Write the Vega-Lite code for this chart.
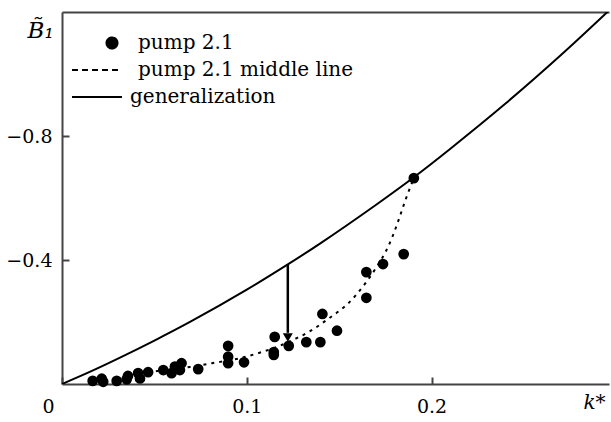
{
  "$schema": "https://vega.github.io/schema/vega-lite/v6.json",
  "width": 547,
  "height": 372,
  "autosize": "none",
  "padding": {"left": 62, "top": 12, "right": 2, "bottom": 38},
  "background": "white",
  "config": {"view": {"stroke": null}},
  "datasets": {
    "pts": [
      {"k": 0.0166, "B": -0.010, "series": "pump 2.1"},
      {"k": 0.0215, "B": -0.017, "series": "pump 2.1"},
      {"k": 0.0223, "B": -0.007, "series": "pump 2.1"},
      {"k": 0.0296, "B": -0.010, "series": "pump 2.1"},
      {"k": 0.0350, "B": -0.015, "series": "pump 2.1"},
      {"k": 0.0357, "B": -0.026, "series": "pump 2.1"},
      {"k": 0.0412, "B": -0.035, "series": "pump 2.1"},
      {"k": 0.0422, "B": -0.018, "series": "pump 2.1"},
      {"k": 0.0466, "B": -0.038, "series": "pump 2.1"},
      {"k": 0.0548, "B": -0.045, "series": "pump 2.1"},
      {"k": 0.0593, "B": -0.035, "series": "pump 2.1"},
      {"k": 0.0611, "B": -0.056, "series": "pump 2.1"},
      {"k": 0.0638, "B": -0.045, "series": "pump 2.1"},
      {"k": 0.0647, "B": -0.067, "series": "pump 2.1"},
      {"k": 0.0737, "B": -0.048, "series": "pump 2.1"},
      {"k": 0.0899, "B": -0.123, "series": "pump 2.1"},
      {"k": 0.0899, "B": -0.088, "series": "pump 2.1"},
      {"k": 0.0899, "B": -0.067, "series": "pump 2.1"},
      {"k": 0.0985, "B": -0.070, "series": "pump 2.1"},
      {"k": 0.1151, "B": -0.152, "series": "pump 2.1"},
      {"k": 0.1146, "B": -0.103, "series": "pump 2.1"},
      {"k": 0.1146, "B": -0.094, "series": "pump 2.1"},
      {"k": 0.1227, "B": -0.123, "series": "pump 2.1"},
      {"k": 0.1322, "B": -0.135, "series": "pump 2.1"},
      {"k": 0.1398, "B": -0.135, "series": "pump 2.1"},
      {"k": 0.1409, "B": -0.226, "series": "pump 2.1"},
      {"k": 0.1488, "B": -0.172, "series": "pump 2.1"},
      {"k": 0.1647, "B": -0.278, "series": "pump 2.1"},
      {"k": 0.1647, "B": -0.361, "series": "pump 2.1"},
      {"k": 0.1737, "B": -0.387, "series": "pump 2.1"},
      {"k": 0.1849, "B": -0.419, "series": "pump 2.1"},
      {"k": 0.1904, "B": -0.664, "series": "pump 2.1"}
    ],
    "mid": [
      {"k": 0.0422, "B": -0.035, "series": "pump 2.1 middle line"},
      {"k": 0.0546, "B": -0.044, "series": "pump 2.1 middle line"},
      {"k": 0.0692, "B": -0.055, "series": "pump 2.1 middle line"},
      {"k": 0.0811, "B": -0.067, "series": "pump 2.1 middle line"},
      {"k": 0.0962, "B": -0.083, "series": "pump 2.1 middle line"},
      {"k": 0.1086, "B": -0.104, "series": "pump 2.1 middle line"},
      {"k": 0.1178, "B": -0.123, "series": "pump 2.1 middle line"},
      {"k": 0.1270, "B": -0.148, "series": "pump 2.1 middle line"},
      {"k": 0.1330, "B": -0.166, "series": "pump 2.1 middle line"},
      {"k": 0.1438, "B": -0.209, "series": "pump 2.1 middle line"},
      {"k": 0.1557, "B": -0.265, "series": "pump 2.1 middle line"},
      {"k": 0.1638, "B": -0.322, "series": "pump 2.1 middle line"},
      {"k": 0.1703, "B": -0.378, "series": "pump 2.1 middle line"},
      {"k": 0.1750, "B": -0.425, "series": "pump 2.1 middle line"},
      {"k": 0.1790, "B": -0.478, "series": "pump 2.1 middle line"},
      {"k": 0.1825, "B": -0.535, "series": "pump 2.1 middle line"},
      {"k": 0.1860, "B": -0.596, "series": "pump 2.1 middle line"},
      {"k": 0.1904, "B": -0.664, "series": "pump 2.1 middle line"}
    ],
    "gen": [
      {"k": 0.0, "B": 0.0, "series": "generalization"},
      {"k": 0.015, "B": -0.039, "series": "generalization"},
      {"k": 0.03, "B": -0.081, "series": "generalization"},
      {"k": 0.05, "B": -0.140, "series": "generalization"},
      {"k": 0.07, "B": -0.2025, "series": "generalization"},
      {"k": 0.1, "B": -0.3044, "series": "generalization"},
      {"k": 0.1222, "B": -0.3858, "series": "generalization"},
      {"k": 0.14, "B": -0.4546, "series": "generalization"},
      {"k": 0.17, "B": -0.5784, "series": "generalization"},
      {"k": 0.1904, "B": -0.667, "series": "generalization"},
      {"k": 0.21, "B": -0.7583, "series": "generalization"},
      {"k": 0.24, "B": -0.9047, "series": "generalization"},
      {"k": 0.27, "B": -1.0612, "series": "generalization"},
      {"k": 0.2962, "B": -1.206, "series": "generalization"}
    ],
    "arrow": [
      {"k": 0.1222, "B": -0.386, "B2": -0.165, "tip": -0.150}
    ]
  },
  "layer": [
    {
      "data": {"name": "gen"},
      "mark": {"type": "line", "strokeWidth": 2, "interpolate": "catmull-rom", "clip": true},
      "encoding": {
        "x": {"field": "k", "type": "quantitative", "scale": {"domain": [0, 0.296], "nice": false, "zero": false},
          "axis": {"orient": "top", "labels": false, "ticks": false, "grid": false, "title": null, "domainColor": "#444", "domainWidth": 2}},
        "y": {"field": "B", "type": "quantitative", "scale": {"domain": [0, -1.2], "nice": false, "zero": false},
          "axis": {"values": [-0.8, -0.4], "grid": false, "domainColor": "#444", "domainWidth": 2, "tickColor": "#444", "tickWidth": 2, "tickSize": -7, "labelPadding": 17,
            "labelFont": "DejaVu Serif", "labelFontSize": 19, "labelColor": "black",
            "labelExpr": "'\u2212' + format(-datum.value, '.1f')",
            "title": "B\u0303\u2081", "titleAngle": 0, "titleX": -35, "titleY": 25, "titleAlign": "left", "titleBaseline": "alphabetic",
            "titleFont": "DejaVu Serif", "titleFontSize": 23, "titleFontStyle": "italic", "titleFontWeight": "normal", "titleColor": "black"}},
        "color": {"field": "series", "type": "nominal",
          "scale": {"domain": ["pump 2.1", "pump 2.1 middle line", "generalization"], "range": ["black", "black", "black"]},
          "legend": {"orient": "none", "legendX": 25, "legendY": 21, "title": null,
            "labelFont": "DejaVu Serif", "labelFontSize": 20, "labelColor": "black", "labelOffset": 31, "labelLimit": 400,
            "symbolSize": 100, "symbolStrokeWidth": 2, "symbolStrokeColor": "black", "rowPadding": 7, "padding": 0,
            "encode": {
              "symbols": {"update": {
                "shape": {"signal": "datum.value === 'pump 2.1' ? 'M 4.1,0 A 1.1,1.1 0 1,1 1.9,0 A 1.1,1.1 0 1,1 4.1,0 Z' : 'M -5,0 L 5,0'"},
                "strokeDash": {"signal": "datum.value === 'pump 2.1 middle line' ? [6,4] : [1,0]"},
                "fill": {"signal": "datum.value === 'pump 2.1' ? 'black' : 'transparent'"},
                "stroke": {"value": "black"}
              }},
              "labels": {"update": {"dx": {"signal": "datum.value === 'generalization' ? -8 : 0"}}}
            }}}
      }
    },
    {
      "data": {"name": "mid"},
      "mark": {"type": "line", "strokeWidth": 2, "strokeDash": [3, 5], "interpolate": "monotone"},
      "encoding": {
        "x": {"field": "k", "type": "quantitative", "axis": null},
        "y": {"field": "B", "type": "quantitative"},
        "color": {"field": "series", "type": "nominal"}
      }
    },
    {
      "data": {"name": "pts"},
      "mark": {"type": "point", "filled": true, "size": 115, "opacity": 1},
      "encoding": {
        "x": {"field": "k", "type": "quantitative",
          "axis": {"orient": "bottom", "values": [0, 0.1, 0.2], "grid": false, "domainColor": "#444", "domainWidth": 2, "tickColor": "#444", "tickWidth": 2, "tickSize": -7, "labelPadding": 20,
            "labelFont": "DejaVu Serif", "labelFontSize": 19, "labelColor": "black",
            "labelExpr": "datum.value == 0 ? '0' : format(datum.value, '.1f')",
            "labelOffset": {"condition": {"test": "datum.value == 0", "value": -20}, "value": 0},
            "title": "k*", "titleX": 521, "titleY": 24, "titleAlign": "left", "titleBaseline": "alphabetic",
            "titleFont": "DejaVu Serif", "titleFontSize": 20, "titleFontStyle": "italic", "titleFontWeight": "normal", "titleColor": "black"}},
        "y": {"field": "B", "type": "quantitative"},
        "color": {"field": "series", "type": "nominal"}
      }
    },
    {
      "data": {"name": "arrow"},
      "mark": {"type": "rule", "strokeWidth": 2.5, "color": "black"},
      "encoding": {
        "x": {"field": "k", "type": "quantitative", "axis": null},
        "y": {"field": "B", "type": "quantitative"},
        "y2": {"field": "B2"}
      }
    },
    {
      "data": {"name": "arrow"},
      "mark": {"type": "point", "shape": "triangle-down", "filled": true, "size": 100, "color": "black", "opacity": 1},
      "encoding": {
        "x": {"field": "k", "type": "quantitative", "axis": null},
        "y": {"field": "tip", "type": "quantitative"}
      }
    }
  ],
  "resolve": {"axis": {"x": "independent"}}
}
